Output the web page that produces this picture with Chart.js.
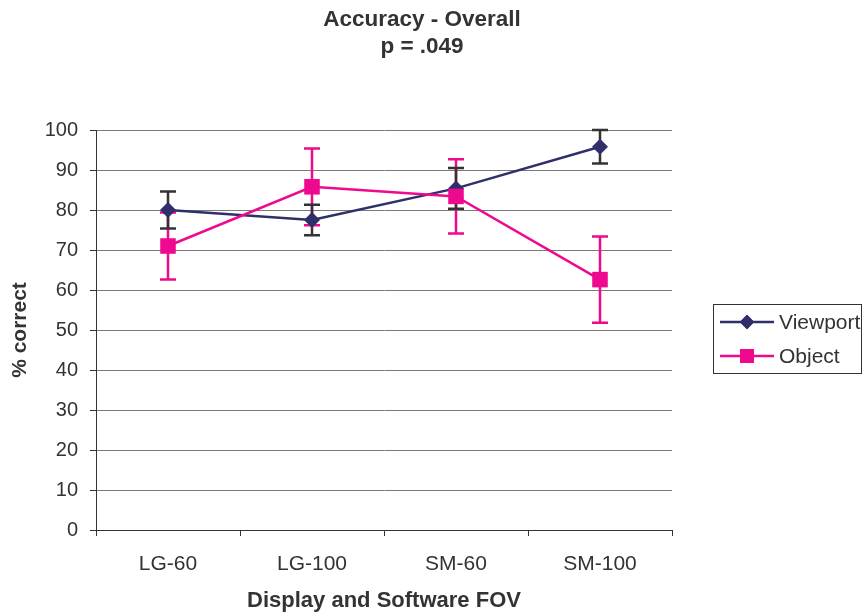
<!DOCTYPE html>
<html>
<head>
<meta charset="utf-8">
<script src="https://cdn.jsdelivr.net/npm/chart.js@4.4.1/dist/chart.umd.min.js"></script>
<style>
html,body{margin:0;padding:0;background:#fff;}
#wrap{width:863px;height:615px;position:relative;}
</style>
</head>
<body>
<div id="wrap"><canvas id="c" width="863" height="615"></canvas></div>
<script>
const categories = ['LG-60', 'LG-100', 'SM-60', 'SM-100'];
const viewportValues = [80, 77.5, 85.4, 95.8];
const viewportErrors = [4.6, 3.8, 5.1, 4.2];
const objectValues = [71, 85.8, 83.4, 62.6];
const objectErrors = [8.4, 9.6, 9.3, 10.8];
const yTicks = [0, 10, 20, 30, 40, 50, 60, 70, 80, 90, 100];
const titleLines = ['Accuracy - Overall', 'p = .049'];

const NAVY = '#2f2f6b';
const PINK = '#ee0a8f';
const TEXT = '#333333';
const FONT = '"Liberation Sans", Arial, sans-serif';

const errorBars = {
  id: 'errorBars',
  beforeDatasetsDraw(chart) {
    const ctx = chart.ctx;
    const y = chart.scales.y;
    chart.data.datasets.slice().sort((a, b) => a.errOrder - b.errOrder).forEach(ds => {
      const idx = chart.data.datasets.indexOf(ds);
      const meta = chart.getDatasetMeta(idx);
      ctx.save();
      ctx.strokeStyle = ds.errColor;
      ctx.lineWidth = 2.5;
      meta.data.forEach((pt, i) => {
        const v = ds.data[i], e = ds.errors[i];
        const yt = y.getPixelForValue(v + e), yb = y.getPixelForValue(v - e);
        const x = pt.x;
        ctx.beginPath();
        ctx.moveTo(x, yt); ctx.lineTo(x, yb);
        ctx.moveTo(x - 8, yt); ctx.lineTo(x + 8, yt);
        ctx.moveTo(x - 8, yb); ctx.lineTo(x + 8, yb);
        ctx.stroke();
      });
      ctx.restore();
    });
  }
};

const titleAndLegend = {
  id: 'titleAndLegend',
  afterDraw(chart) {
    const ctx = chart.ctx;
    ctx.save();
    ctx.fillStyle = TEXT;
    ctx.font = 'bold 22.5px ' + FONT;
    ctx.textAlign = 'center';
    ctx.textBaseline = 'middle';
    ctx.fillText(titleLines[0], 422, 20);
    ctx.fillText(titleLines[1], 422, 47);

    ctx.strokeStyle = '#333';
    ctx.lineWidth = 1;
    ctx.strokeRect(713.5, 304.5, 148, 69);
    const items = [
      {ds: chart.data.datasets[1], y: 322},
      {ds: chart.data.datasets[0], y: 356}
    ];
    items.forEach(it => {
      ctx.strokeStyle = it.ds.borderColor;
      ctx.lineWidth = 2.5;
      ctx.beginPath(); ctx.moveTo(720, it.y); ctx.lineTo(774, it.y); ctx.stroke();
      ctx.fillStyle = it.ds.borderColor;
      ctx.beginPath();
      Chart.helpers.drawPoint(ctx, {pointStyle: it.ds.pointStyle, radius: it.ds.pointRadius * 0.9, borderWidth: 0}, 747, it.y);
      ctx.fill();
      ctx.fillStyle = TEXT;
      ctx.font = '21px ' + FONT;
      ctx.textBaseline = 'middle';
      ctx.textAlign = 'left';
      ctx.fillText(it.ds.label, 779, it.y + 1);
    });
    ctx.restore();
  }
};

new Chart(document.getElementById('c'), {
  type: 'line',
  data: {
    labels: categories,
    datasets: [
      {
        label: 'Object', data: objectValues, errors: objectErrors,
        borderColor: PINK, backgroundColor: PINK, errColor: PINK, errOrder: 0,
        borderWidth: 2.5, pointStyle: 'rect', pointRadius: 11, pointHoverRadius: 11,
        pointBorderWidth: 0, tension: 0, order: 0
      },
      {
        label: 'Viewport', data: viewportValues, errors: viewportErrors,
        borderColor: NAVY, backgroundColor: NAVY, errColor: '#333333', errOrder: 1,
        borderWidth: 2.5, pointStyle: 'rectRot', pointRadius: 8, pointHoverRadius: 8,
        pointBorderWidth: 0, tension: 0, order: 1
      }
    ]
  },
  options: {
    responsive: false,
    animation: false,
    events: [],
    layout: { padding: { left: 0, right: 191, top: 130, bottom: 0 } },
    plugins: {
      legend: { display: false },
      tooltip: { enabled: false },
      title: { display: false }
    },
    scales: {
      x: {
        offset: true,
        grid: { offset: true, drawOnChartArea: false, drawTicks: true, tickLength: 6, color: '#333', lineWidth: 1 },
        border: { display: true, color: '#333', width: 1 },
        ticks: { color: TEXT, font: { family: FONT, size: 21 }, padding: 16, maxRotation: 0 },
        title: { display: true, text: 'Display and Software FOV', color: TEXT,
                 font: { family: FONT, size: 22, weight: 'bold' }, padding: { top: 1, bottom: 1 } },
        afterFit(s) { s.height = 85; }
      },
      y: {
        min: 0, max: 100,
        afterBuildTicks(s) { s.ticks = yTicks.map(v => ({ value: v })); },
        grid: {
          drawTicks: true, tickLength: 6,
          color: '#7a7a7a', lineWidth: 1,
          tickColor: '#333'
        },
        border: { display: true, color: '#333', width: 1 },
        ticks: { color: TEXT, font: { family: FONT, size: 20 }, padding: 12 },
        title: { display: true, text: '% correct', color: TEXT,
                 font: { family: FONT, size: 21, weight: 'bold' }, padding: { top: 8, bottom: 8 } },
        afterFit(s) { s.width = 96; }
      }
    }
  },
  plugins: [errorBars, titleAndLegend]
});
</script>
</body>
</html>
